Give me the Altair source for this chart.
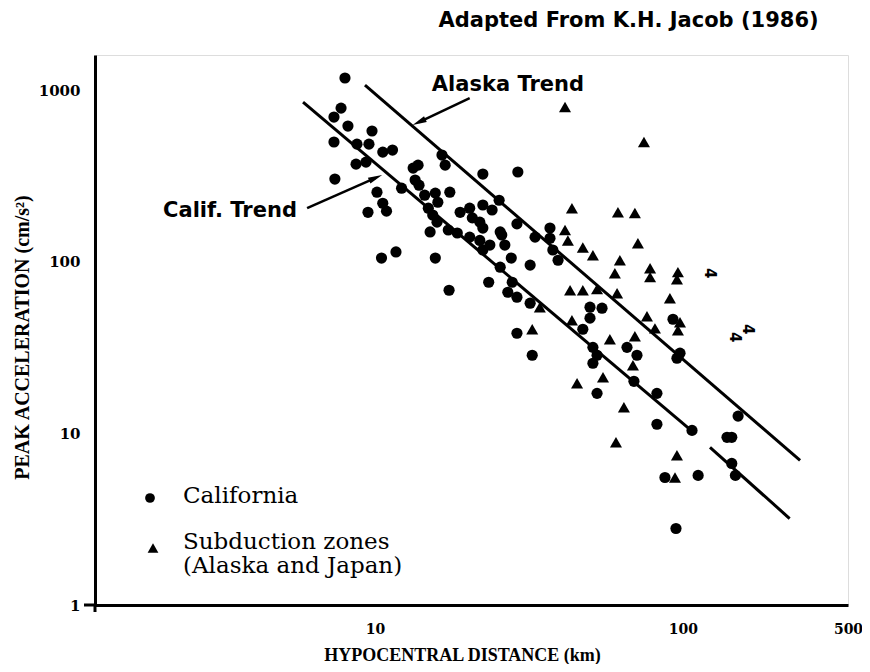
import altair as alt
import pandas as pd

# ---------------- data ----------------
calif_dist = [7.99, 7.76, 7.36, 8.17, 9.78, 7.36, 8.74, 9.56, 10.6, 11.4, 8.68, 9.35, 7.41,
              10.15, 10.6, 10.9, 9.49, 12.2, 13.3, 13.8, 13.5, 13.9, 16.5, 16.9, 17.5, 14.5,
              15.7, 16.0, 14.9, 15.4, 15.9, 15.1, 17.3, 29.1, 22.4, 25.3, 18.9, 20.3, 22.4,
              24.0, 20.7, 21.9, 22.4, 28.9, 25.5, 37.0, 18.5, 20.3, 21.9, 22.4, 23.6, 25.8,
              26.4, 27.7, 31.9, 25.5, 23.4, 27.9, 27.0, 28.9, 33.1, 37.0, 37.8, 39.3, 31.9,
              49.9, 54.6, 49.9, 47.3, 28.9, 32.4, 51.0, 52.6, 51.0, 52.6, 10.5, 11.7, 15.7,
              17.4, 92.8, 65.8, 70.9, 97.8, 95.6, 69.3, 82.3, 82.3, 107, 87.4, 112, 94.9,
              151, 139, 144, 144, 148]
calif_acc = [1175, 785, 696, 617, 577, 498, 484, 484, 435, 447, 370, 380, 303,
             254, 219, 197, 194, 268, 351, 365, 299, 279, 418, 365, 254, 244,
             251, 222, 205, 187, 170, 149, 153, 333, 324, 228, 194, 205, 214,
             200, 180, 170, 157, 166, 149, 157, 147, 139, 133, 117, 125, 143,
             125, 105, 95.5, 92.9, 75.9, 75.9, 66.4, 62.1, 139, 137, 117, 102, 57.3,
             54.3, 53.6, 46.9, 40.4, 38.3, 28.5, 31.7, 28.5, 25.6, 17.1, 105, 114, 105,
             68.2, 46.2, 31.7, 28.5, 29.3, 27.4, 20.1, 17.1, 11.3, 10.4, 5.53, 5.69, 2.79,
             12.6, 9.48, 9.48, 6.68, 5.69]

sub_dist = [41.4, 74.7, 43.6, 41.4, 61.5, 69.8, 42.3, 47.3, 51.0, 43.0, 47.3, 52.6,
            34.3, 43.6, 32.4, 45.3, 55.0, 71.4, 62.4, 60.1, 78.2, 78.2, 96.3, 95.6,
            61.1, 90.7, 76.4, 81.1, 97.8, 96.3, 57.9, 69.8, 68.8, 64.3, 60.6, 95.6, 94.2]
sub_acc = [796, 498, 205, 153, 194, 192, 133, 121, 109, 68.2, 68.2, 69.2,
           54.3, 45.6, 40.4, 19.6, 21.2, 128, 102, 85.7, 91.6, 81.3, 86.9, 79.1,
           65.5, 61.3, 48.1, 40.9, 44.4, 39.9, 35.3, 36.8, 24.9, 14.2, 8.87, 7.45, 5.53]

# trend lines (two segments for the California trend, which is broken)
trend_seg = ["Alaska", "Alaska", "Calif1", "Calif1", "Calif2", "Calif2"]
trend_dist = [9.28, 240, 5.84, 107, 122.4, 222]
trend_acc = [1069, 6.96, 851, 10.3, 8.28, 3.19]

# annotation arrows
arrow_id = ["Alaska", "Alaska", "Calif", "Calif"]
arrow_dist = [20.3, 13.9, 6.02, 10.05]
arrow_acc = [898, 651, 205, 308]
head_dist = [13.9, 10.05]
head_acc = [651, 308]
head_angle = [244.6, 66.3]

label_text = ["Alaska Trend", "Calif. Trend"]
label_dist = [15.3, 5.58]
label_acc = [1069, 197]
label_align = ["left", "right"]

odd_text = ["4", "4", "4"]
odd_dist = [122.4, 162.6, 147.5]
odd_acc = [85.7, 40.4, 36.3]

y_ticks = [1, 10, 100, 1000]
x_ticks = [10, 100, 343.4]
x_tick_labels = ["10", "100", "500"]

# ---------------- chart ----------------
W, H = 753, 550
x_scale = alt.Scale(type="log", domain=[1.233, 343.4], nice=False)
y_scale = alt.Scale(type="log", domain=[1, 1600], nice=False)

label_expr = " : ".join(
    [f"abs(datum.value - {v}) < 1 ? '{t}'" for v, t in zip(x_ticks, x_tick_labels)]
) + " : datum.label"

x_axis = alt.Axis(values=x_ticks, labelExpr=label_expr, grid=False, ticks=False, tickSize=0,
                  domainColor="black", domainWidth=3,
                  labelFont="DejaVu Serif", labelFontWeight="bold", labelFontSize=14,
                  labelColor="black", labelPadding=17, labelFlush=False,
                  title="HYPOCENTRAL DISTANCE (km)", titleFont="Liberation Serif",
                  titleFontWeight="bold", titleFontSize=18, titleColor="black",
                  titleX=367, titleY=50, titleAlign="center", titleBaseline="middle")
y_axis = alt.Axis(values=y_ticks, format="d", grid=False, ticks=False, tickSize=0,
                  domainColor="black", domainWidth=3,
                  labelFont="DejaVu Serif", labelFontWeight="bold", labelFontSize=15,
                  labelColor="black", labelPadding=15, labelFlush=False,
                  title="PEAK ACCELERATION (cm/s²)", titleFont="Liberation Serif",
                  titleFontWeight="bold", titleFontSize=20, titleColor="black",
                  titleX=-73, titleY=282, titleAngle=-90, titleAlign="center",
                  titleBaseline="middle")

X = alt.X("dist:Q", scale=x_scale, axis=x_axis)
Y = alt.Y("acc:Q", scale=y_scale, axis=y_axis)

calif_df = pd.DataFrame({"dist": calif_dist, "acc": calif_acc})
sub_df = pd.DataFrame({"dist": sub_dist, "acc": sub_acc})
trend_df = pd.DataFrame({"seg": trend_seg, "dist": trend_dist, "acc": trend_acc})
arrow_df = pd.DataFrame({"id": arrow_id, "dist": arrow_dist, "acc": arrow_acc})
head_df = pd.DataFrame({"dist": head_dist, "acc": head_acc, "angle": head_angle})
lab_df = pd.DataFrame({"text": label_text, "dist": label_dist, "acc": label_acc, "align": label_align})
odd_df = pd.DataFrame({"text": odd_text, "dist": odd_dist, "acc": odd_acc})

circles = alt.Chart(calif_df).mark_point(shape="circle", filled=True, color="black",
                                         size=125, opacity=1).encode(x=X, y=Y)
triangles = alt.Chart(sub_df).mark_point(shape="triangle-up", filled=True, color="black",
                                         size=145, opacity=1).encode(x=X, y=Y)
trends = alt.Chart(trend_df).mark_line(color="black", strokeWidth=3).encode(
    x=X, y=Y, detail="seg:N")
arrows = alt.Chart(arrow_df).mark_line(color="black", strokeWidth=2.5).encode(
    x=X, y=Y, detail="id:N")
heads = alt.Chart(head_df).mark_point(shape="M0,-1L0.45,1L-0.45,1Z", filled=True,
                                      color="black", size=200, opacity=1).encode(
    x=X, y=Y, angle=alt.Angle("angle:Q", scale=None))
lab_left = alt.Chart(lab_df[lab_df["align"] == "left"]).mark_text(
    align="left", baseline="middle", font="DejaVu Sans", fontWeight="bold",
    fontSize=21, color="black").encode(x=X, y=Y, text="text:N")
lab_right = alt.Chart(lab_df[lab_df["align"] == "right"]).mark_text(
    align="right", baseline="middle", font="DejaVu Sans", fontWeight="bold",
    fontSize=21, color="black").encode(x=X, y=Y, text="text:N")
odd = alt.Chart(odd_df).mark_text(angle=90, font="DejaVu Sans", fontWeight="bold",
                                  fontSize=15, color="black").encode(x=X, y=Y, text="text:N")

# axis corner (the x-axis runs a little past the y-axis and vice versa)
corner_h = alt.Chart(pd.DataFrame({"a": [0]})).mark_rule(color="black", strokeWidth=3).encode(
    x=alt.value(-11), x2=alt.value(0), y=alt.value(H))
corner_v = alt.Chart(pd.DataFrame({"a": [0]})).mark_rule(color="black", strokeWidth=3).encode(
    x=alt.value(0), y=alt.value(H), y2=alt.value(H + 7))

# legend drawn in the lower-left of the plot
leg_c = alt.Chart(pd.DataFrame({"a": [0]})).mark_point(
    shape="circle", filled=True, color="black", size=95, opacity=1).encode(
    x=alt.value(55), y=alt.value(443))
leg_t = alt.Chart(pd.DataFrame({"a": [0]})).mark_point(
    shape="triangle-up", filled=True, color="black", size=115, opacity=1).encode(
    x=alt.value(58), y=alt.value(493))
leg_txt1 = alt.Chart(pd.DataFrame({"t": ["California"]})).mark_text(
    align="left", baseline="middle", font="DejaVu Serif", fontSize=23, color="black").encode(
    x=alt.value(88), y=alt.value(441), text="t:N")
leg_txt2 = alt.Chart(pd.DataFrame({"t": ["Subduction zones\n(Alaska and Japan)"]})).mark_text(
    align="left", baseline="middle", font="DejaVu Serif", fontSize=23, color="black",
    lineBreak="\n", lineHeight=24).encode(
    x=alt.value(88), y=alt.value(487), text="t:N")

chart = alt.layer(
    trends, arrows, heads, circles, triangles, lab_left, lab_right, odd,
    corner_h, corner_v, leg_c, leg_t, leg_txt1, leg_txt2
).properties(
    width=W, height=H,
    title=alt.TitleParams("Adapted From K.H. Jacob (1986)", anchor="end", font="DejaVu Sans",
                          fontWeight="bold", fontSize=21, color="black", dx=-44, offset=24),
    autosize=alt.AutoSizeParams(type="none"),
    padding={"left": 87, "top": 47, "right": 14, "bottom": 59},
).configure_view(stroke=None).configure(background="white")

chart.save("out.html", embed_options={"renderer": "svg", "actions": False})
